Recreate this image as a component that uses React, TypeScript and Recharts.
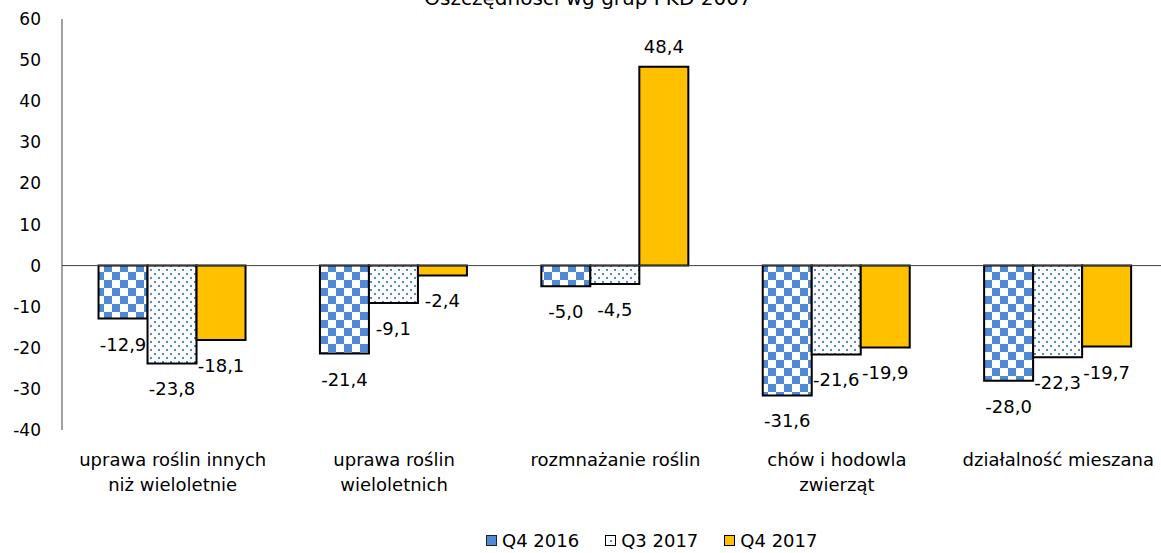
import React from "react";
import { BarChart, Bar, XAxis, YAxis, ReferenceLine, Legend, LabelList } from "recharts";

const categories = [
  "uprawa roślin innych\nniż wieloletnie",
  "uprawa roślin\nwieloletnich",
  "rozmnażanie roślin",
  "chów i hodowla\nzwierząt",
  "działalność mieszana",
];
const q4_2016 = [-12.9, -21.4, -5.0, -31.6, -28.0];
const q3_2017 = [-23.8, -9.1, -4.5, -21.6, -22.3];
const q4_2017 = [-18.1, -2.4, 48.4, -19.9, -19.7];
const yTicks = [-40, -30, -20, -10, 0, 10, 20, 30, 40, 50, 60];
const seriesNames = ["Q4 2016", "Q3 2017", "Q4 2017"];
const title = "Oszczędności wg grup PKD 2007";

const FONT = "'DejaVu Sans', Verdana, sans-serif";
const BLUE = "#5089d4";
const YELLOW = "#ffc000";

const data = categories.map((name, i) => ({
  name,
  a: q4_2016[i],
  b: q3_2017[i],
  c: q4_2017[i],
}));

const fmt = (v: number) => v.toFixed(1).replace(".", ",");

function ValueLabel(props: any) {
  const { x, y, width, height, value } = props;
  const cx = x + width / 2;
  const top = Math.min(y, y + height);
  const bottom = Math.max(y, y + height);
  const ty = value < 0 ? bottom + 32 : top - 14;
  return (
    <text x={cx} y={ty} textAnchor="middle" fontSize={18} fontFamily={FONT} fill="#000">
      {fmt(value)}
    </text>
  );
}

function CategoryTick({ x, y, payload }: any) {
  const lines = String(payload.value).split("\n");
  return (
    <g>
      {lines.map((l, i) => (
        <text key={i} x={x} y={y + 36 + i * 25} textAnchor="middle" fontSize={18} fontFamily={FONT} fill="#000">
          {l}
        </text>
      ))}
    </g>
  );
}

function LegendIcon({ idx }: { idx: number }) {
  return (
    <svg width={11} height={11} style={{ display: "block" }}>
      {idx === 0 && <rect x={0.5} y={0.5} width={10} height={10} fill={BLUE} stroke="#222" />}
      {idx === 1 && (
        <>
          <rect x={0.5} y={0.5} width={10} height={10} fill="#fff" stroke="#000" />
          <rect x={5} y={5} width={2} height={2} fill={BLUE} />
        </>
      )}
      {idx === 2 && <rect x={0.5} y={0.5} width={10} height={10} fill={YELLOW} stroke="#000" />}
    </svg>
  );
}

function LegendContent() {
  return (
    <div style={{ display: "flex", alignItems: "center", height: 24, fontFamily: FONT, fontSize: 18, color: "#000" }}>
      {seriesNames.map((n, i) => (
        <div key={n} style={{ display: "flex", alignItems: "center", marginRight: i < 2 ? 26 : 0 }}>
          <LegendIcon idx={i} />
          <span style={{ marginLeft: 5, whiteSpace: "nowrap" }}>{n}</span>
        </div>
      ))}
    </div>
  );
}

export default function App() {
  return (
    <div style={{ position: "absolute", left: 0, top: 0, width: 1161, height: 553, overflow: "hidden", background: "#fff" }}>
      <div
        style={{
          position: "absolute", left: 0, top: -12, width: 1176, textAlign: "center",
          fontFamily: FONT, fontSize: 20, lineHeight: "20px", color: "#000", zIndex: 2,
        }}
      >
        {title}
      </div>
      <BarChart
        width={1170}
        height={553}
        data={data}
        margin={{ top: 19, right: 1, left: 0, bottom: 0 }}
        barCategoryGap="16.5%"
        barGap={0}
      >
        <defs>
          <pattern id="checker" width={16} height={16} patternUnits="userSpaceOnUse">
            <rect width={16} height={16} fill="#fff" />
            <rect x={0} y={0} width={8} height={8} fill={BLUE} />
            <rect x={8} y={8} width={8} height={8} fill={BLUE} />
          </pattern>
          <pattern id="dots" width={8} height={8} patternUnits="userSpaceOnUse">
            <rect width={8} height={8} fill="#fff" />
            <rect x={2} y={1} width={2} height={2} fill={BLUE} />
            <rect x={6} y={5} width={2} height={2} fill={BLUE} />
          </pattern>
        </defs>
        <XAxis dataKey="name" axisLine={false} tickLine={false} tickSize={0} tickMargin={0} height={99} interval={0} tick={<CategoryTick />} />
        <YAxis
          width={62}
          domain={[-40, 60]}
          ticks={yTicks}
          interval={0}
          tickLine={false}
          tickSize={0}
          tickMargin={21}
          axisLine={{ stroke: "#404040", strokeWidth: 1 }}
          tick={{ fontSize: 17, fontFamily: FONT, fill: "#000" }}
        />
        <ReferenceLine y={0} stroke="#404040" strokeWidth={1} />
        <Legend verticalAlign="bottom" content={<LegendContent />} wrapperStyle={{ left: 486, top: 528, width: "auto" }} />
        <Bar dataKey="a" name={seriesNames[0]} fill="url(#checker)" stroke="#000" strokeWidth={2} isAnimationActive={false}>
          <LabelList dataKey="a" content={<ValueLabel />} />
        </Bar>
        <Bar dataKey="b" name={seriesNames[1]} fill="url(#dots)" stroke="#000" strokeWidth={2} isAnimationActive={false}>
          <LabelList dataKey="b" content={<ValueLabel />} />
        </Bar>
        <Bar dataKey="c" name={seriesNames[2]} fill={YELLOW} stroke="#000" strokeWidth={2} isAnimationActive={false}>
          <LabelList dataKey="c" content={<ValueLabel />} />
        </Bar>
      </BarChart>
    </div>
  );
}
